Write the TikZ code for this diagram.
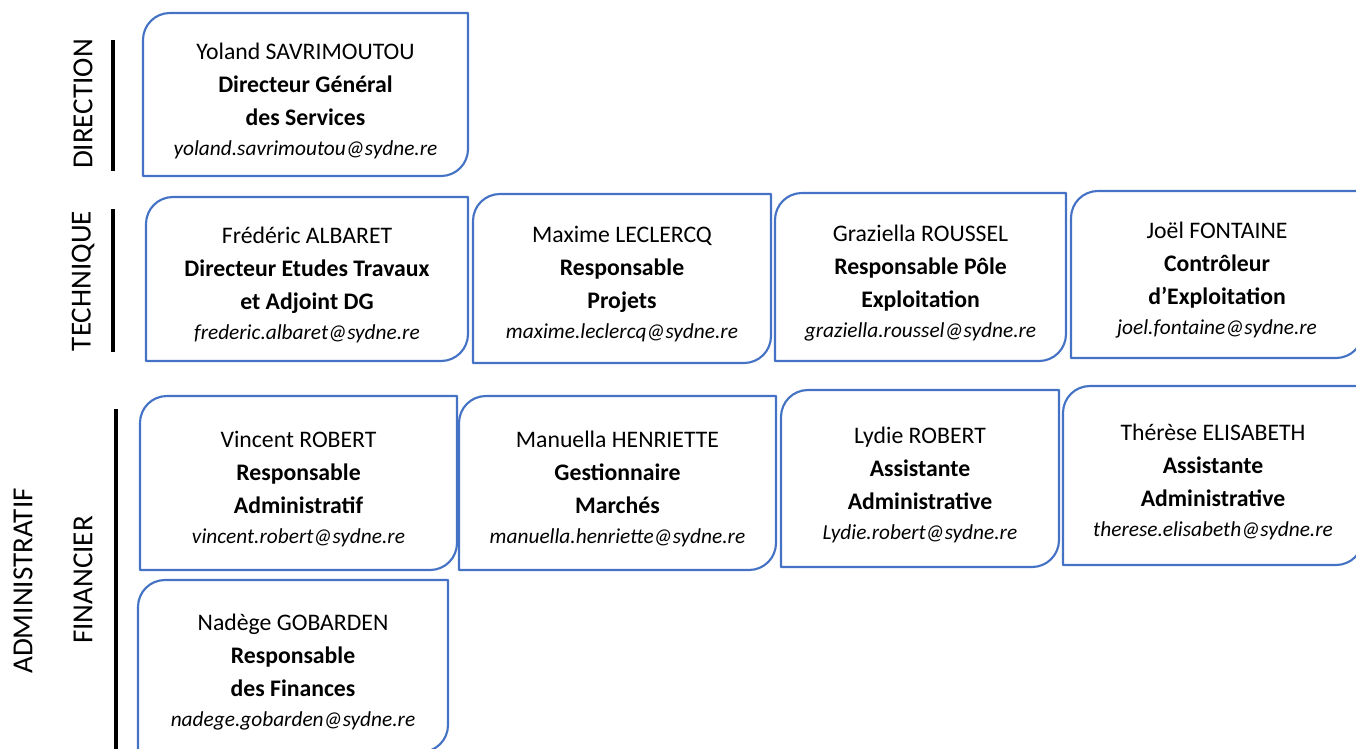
\documentclass[tikz,border=0pt]{standalone}
\usepackage{fontspec}
\setmainfont{Carlito}
\definecolor{boxblue}{HTML}{4472C4}
\tikzset{
  x=0.75pt, y=-0.75pt,
  boxline/.style={draw=boxblue, line width=1.6pt, line join=round},
  boxtext/.style={align=center, inner sep=0pt, font=\fontsize{17.8}{24.75}\selectfont},
  grouplabel/.style={rotate=90, inner sep=0pt, font=\fontsize{21.8}{26}\selectfont},
  groupbar/.style={draw=black, line width=2.6pt}
}
\newcommand{\orgbox}[9]{%
  \node[boxtext] (#1) at ({(#2+#4)/2},{(#3+#5)/2+6}) {#6\\\textbf{#7}\\\textbf{#8}\\[-2.25pt]{\fontsize{16}{20}\selectfont\itshape #9}};
  \draw[boxline] (#2,#5) -- (#2,{#3+27}) .. controls (#2,{#3+12}) and ({#2+12},#3) .. ({#2+27},#3)
    -- (#4,#3) -- (#4,{#5-27}) .. controls (#4,{#5-12}) and ({#4-12},#5) .. ({#4-27},#5) -- cycle;
}
\begin{document}
\begin{tikzpicture}
\useasboundingbox (0,0) rectangle (1356,749);
\clip (0,0) rectangle (1356,749);
% group labels and bars
\node[grouplabel] (ldir) at (83,104) {DIRECTION};
\node[grouplabel] (ltech) at (83,281) {TECHNIQUE};
\node[grouplabel] (lfin) at (83,580) {FINANCIER};
\node[grouplabel] (ladm) at (23,581) {ADMINISTRATIF};
\coordinate (bd1) at (113,40);  \coordinate (bd2) at (113,171);
\coordinate (bt1) at (113,209); \coordinate (bt2) at (113,352);
\coordinate (bf1) at (116,409); \coordinate (bf2) at (116,752);
\draw[groupbar] (bd1) -- (bd2);
\draw[groupbar] (bt1) -- (bt2);
\draw[groupbar] (bf1) -- (bf2);
% boxes
\orgbox{dg}{143}{13}{468}{176}{Yoland SAVRIMOUTOU}{Directeur Général}{des Services}{yoland.savrimoutou@sydne.re}
\orgbox{albaret}{146}{197}{468}{361}{Frédéric ALBARET}{Directeur Etudes Travaux}{et Adjoint DG}{frederic.albaret@sydne.re}
\orgbox{leclercq}{473}{194}{771}{363}{Maxime LECLERCQ}{Responsable}{Projets}{maxime.leclercq@sydne.re}
\orgbox{roussel}{775}{193}{1066}{361}{Graziella ROUSSEL}{Responsable Pôle}{Exploitation}{graziella.roussel@sydne.re}
\orgbox{fontaine}{1071}{191}{1363}{358}{Joël FONTAINE}{Contrôleur}{d’Exploitation}{joel.fontaine@sydne.re}
\orgbox{vrobert}{140}{396}{457}{570}{Vincent ROBERT}{Responsable}{Administratif}{vincent.robert@sydne.re}
\orgbox{henriette}{459}{396}{776}{570}{Manuella HENRIETTE}{Gestionnaire}{Marchés}{manuella.henriette@sydne.re}
\orgbox{lydie}{781}{390}{1059}{567}{Lydie ROBERT}{Assistante}{Administrative}{Lydie.robert@sydne.re}
\orgbox{therese}{1063}{386}{1363}{565}{Thérèse ELISABETH}{Assistante}{Administrative}{therese.elisabeth@sydne.re}
\orgbox{gobarden}{138}{580}{448}{752}{Nadège GOBARDEN}{Responsable}{des Finances}{nadege.gobarden@sydne.re}
\end{tikzpicture}
\end{document}
